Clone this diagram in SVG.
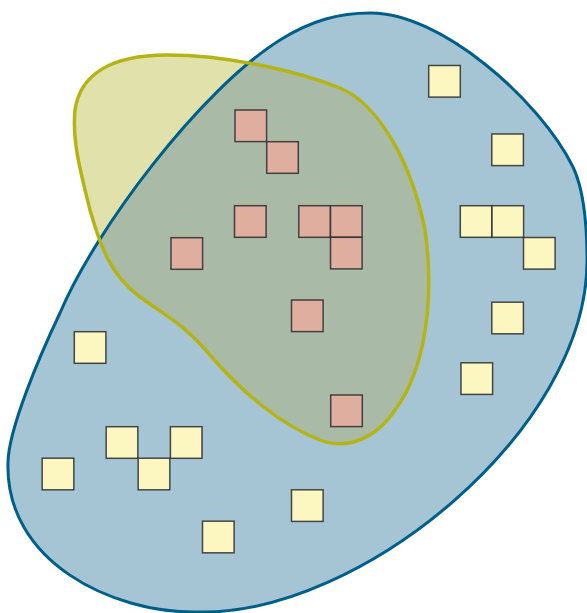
<svg xmlns="http://www.w3.org/2000/svg" width="587" height="613" viewBox="0 0 587 613">
<style>
.sq{stroke:#2b2b2b;stroke-opacity:0.85;stroke-width:1.5}
.y{fill:#fcf6c0}
.r{fill:#dfae9f}
</style>
<defs>
<path id="blue" d="M370,13 C440,12 540,100 573,167 C584,190 587,225 587,260 C588,430 360,615 200,612 C110,614 5,560 8,463 C8,430 40,355 60,313 C95,230 200,90 280,40 C312,20 340,13 370,13 Z"/>
<path id="yel" d="M167,55 C230,55 300,72 340,88 C380,105 412,165 425,230 C435,300 425,370 395,410 C375,440 345,450 320,440 C280,425 240,390 210,355 C185,325 165,315 140,297 C110,275 100,245 90,210 C80,170 72,140 75,110 C80,75 110,55 167,55 Z"/>
<clipPath id="clipBlue"><use href="#blue"/></clipPath>
</defs>
<g id="sets">
<use href="#blue" fill="#a6c5d4"/>
<use href="#yel" fill="#e1e1ab"/>
<use href="#yel" fill="#a9bba7" clip-path="url(#clipBlue)"/>
<use href="#blue" fill="none" stroke="#005f8a" stroke-width="3"/>
<use href="#yel" fill="none" stroke="#b5b416" stroke-width="3.5"/>
</g>
<g id="red-squares">
<rect id="r1" class="sq r" x="235" y="110" width="31.6" height="31.6"/>
<rect id="r2" class="sq r" x="266.7" y="141.7" width="31.6" height="31.6"/>
<rect id="r3" class="sq r" x="234.5" y="205.7" width="31.6" height="31.6"/>
<rect id="r4" class="sq r" x="298.8" y="205.7" width="31.6" height="31.6"/>
<rect id="r5" class="sq r" x="330.5" y="205.7" width="31.6" height="31.6"/>
<rect id="r6" class="sq r" x="330.5" y="237.3" width="31.6" height="31.6"/>
<rect id="r7" class="sq r" x="171" y="237.7" width="31.6" height="31.6"/>
<rect id="r8" class="sq r" x="291.5" y="300" width="31.6" height="31.6"/>
<rect id="r9" class="sq r" x="330.7" y="395" width="31.6" height="31.6"/>
</g>
<g id="yellow-squares">
<rect id="y1" class="sq y" x="428.7" y="65.5" width="31.6" height="31.6"/>
<rect id="y2" class="sq y" x="491.8" y="134" width="31.6" height="31.6"/>
<rect id="y3" class="sq y" x="460.3" y="205.7" width="31.6" height="31.6"/>
<rect id="y4" class="sq y" x="492" y="205.7" width="31.6" height="31.6"/>
<rect id="y5" class="sq y" x="523.5" y="237.5" width="31.6" height="31.6"/>
<rect id="y6" class="sq y" x="491.8" y="302.2" width="31.6" height="31.6"/>
<rect id="y7" class="sq y" x="461" y="362.8" width="31.6" height="31.6"/>
<rect id="y8" class="sq y" x="74.3" y="331.7" width="31.6" height="31.6"/>
<rect id="y9" class="sq y" x="106.2" y="426.7" width="31.6" height="31.6"/>
<rect id="y10" class="sq y" x="170.4" y="426.7" width="31.6" height="31.6"/>
<rect id="y11" class="sq y" x="138.2" y="458.2" width="31.6" height="31.6"/>
<rect id="y12" class="sq y" x="42.2" y="458.2" width="31.6" height="31.6"/>
<rect id="y13" class="sq y" x="291.5" y="489.8" width="31.6" height="31.6"/>
<rect id="y14" class="sq y" x="202.5" y="521.2" width="31.6" height="31.6"/>
</g>
</svg>
